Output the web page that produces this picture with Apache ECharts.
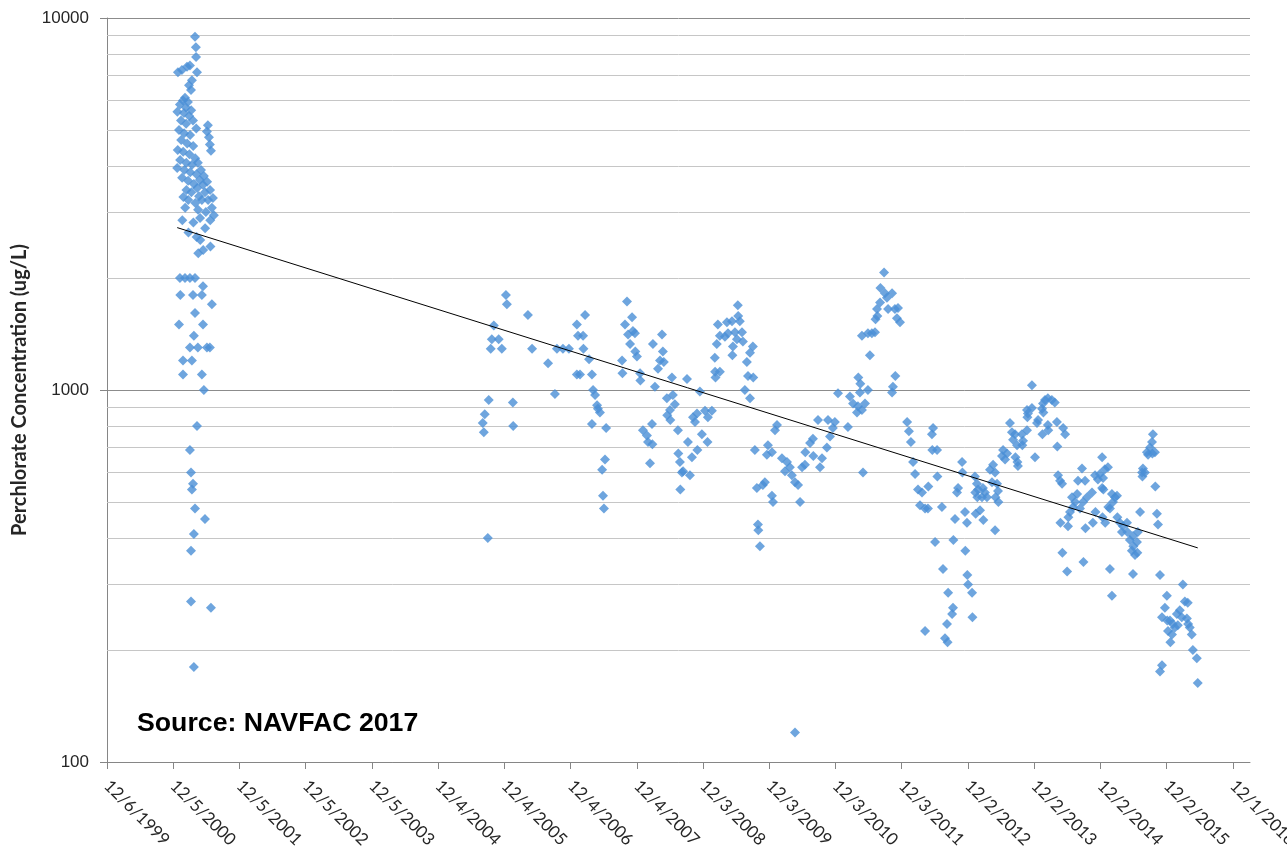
<!DOCTYPE html>
<html>
<head>
<meta charset="utf-8">
<title>Perchlorate Concentration</title>
<script src="https://cdn.jsdelivr.net/npm/echarts@6/dist/echarts.min.js"></script>
<style>
html, body { margin: 0; padding: 0; background: #fff; }
#chart { width: 1287px; height: 853px; }
</style>
</head>
<body>
<div id="chart"></div>
<script>
// sample date, perchlorate (ug/L)
var samples2001 = [
    ['2001-04-04',8900],['2001-04-09',8350],['2001-04-10',7850],['2001-04-15',7150],['2001-03-07',7450],['2001-02-19',7400],
    ['2001-01-22',7250],['2000-12-31',7150],['2001-03-18',6800],['2001-03-02',6600],['2001-03-13',6400],['2001-02-08',6100],
    ['2001-01-28',6000],['2001-02-24',5950],['2001-01-11',5850],['2001-02-13',5750],['2001-03-14',5650],['2000-12-28',5600],
    ['2001-02-02',5550],['2001-03-03',5450],['2001-01-17',5300],['2001-03-24',5300],['2001-02-14',5200],['2001-06-14',5150],
    ['2001-06-09',4950],['2001-06-20',4780],['2001-06-25',4570],['2001-07-01',4400],['2001-01-06',5000],['2001-02-03',4900],
    ['2001-03-08',4850],['2001-04-11',5050],['2001-01-18',4700],['2001-02-20',4600],['2001-03-25',4530],['2000-12-30',4420],
    ['2001-01-29',4370],['2001-03-04',4300],['2001-04-05',4200],['2001-01-12',4150],['2001-02-15',4080],['2001-03-19',4030],
    ['2001-04-20',4080],['2000-12-27',3950],['2001-02-04',3900],['2001-03-09',3850],['2001-04-12',3800],['2001-05-07',3900],
    ['2001-01-23',3720],['2001-02-25',3650],['2001-03-29',3580],['2001-05-01',3670],['2001-05-23',3760],['2001-02-16',3450],
    ['2001-03-15',3400],['2001-04-16',3490],['2001-05-18',3560],['2001-06-10',3630],['2001-01-30',3300],['2001-04-26',3320],
    ['2001-05-29',3400],['2001-06-26',3450],['2001-02-26',3240],['2001-04-06',3180],['2001-05-12',3240],['2001-06-15',3240],
    ['2001-07-12',3280],['2001-02-09',3090],['2001-04-21',3050],['2001-06-03',3010],['2001-07-06',3090],['2001-05-02',2900],
    ['2001-06-27',2860],['2001-07-17',2950],['2001-01-24',2860],['2001-03-26',2820],['2001-05-30',2720],['2001-02-27',2650],
    ['2001-05-03',2530],['2001-04-13',2580],['2001-06-28',2430],['2001-04-22',2330],['2001-05-19',2380],['2001-01-11',2000],
    ['2001-02-08',2000],['2001-03-07',2000],['2001-04-04',2000],['2001-05-18',1900],['2001-01-13',1800],['2001-03-24',1800],
    ['2001-05-12',1800],['2001-07-06',1700],['2001-04-04',1610],['2001-01-06',1500],['2001-05-18',1500],['2001-03-29',1400],
    ['2001-03-07',1300],['2001-04-20',1300],['2001-06-09',1300],['2001-06-25',1300],['2001-01-28',1200],['2001-03-18',1200],
    ['2001-01-28',1100],['2001-05-12',1100],['2001-05-23',1000],['2001-04-15',800],['2001-03-07',690],['2001-03-13',600],
    ['2001-03-24',560],['2001-03-18',540],['2001-04-04',480],['2001-05-29',450],['2001-03-29',410],['2001-03-13',370],
    ['2001-03-13',270],['2001-07-01',260],['2001-03-29',180]
];
var samples2005 = [
    ['2005-08-07',815],['2005-08-18',860],['2005-08-13',770],['2005-09-09',940],['2005-09-04',400],['2005-09-26',1370],
    ['2005-10-07',1490],['2005-09-20',1290],['2005-11-03',1370],['2005-11-20',1290],['2005-12-13',1800],['2005-12-18',1700],
    ['2006-01-20',925],['2006-01-22',800],['2006-04-13',1590],['2006-05-06',1290],['2006-08-02',1180],['2006-09-09',975],
    ['2006-09-20',1290],['2006-10-23',1290],['2006-11-25',1290],['2007-01-08',1500],['2007-02-22',1590],['2007-01-14',1400],
    ['2007-02-11',1400],['2007-02-13',1290],['2007-03-16',1210],['2007-01-08',1100],['2007-01-25',1100],['2007-04-01',1100],
    ['2007-04-07',1000],['2007-04-18',970],['2007-04-29',910],['2007-05-04',890],['2007-05-15',870],['2007-04-01',810],
    ['2007-06-18',790],['2007-06-12',650],['2007-05-27',610],['2007-06-01',520],['2007-06-06',480],['2007-10-11',1730],
    ['2007-11-08',1570],['2007-09-30',1500],['2007-11-13',1440],['2007-10-17',1410],['2007-11-24',1420],['2007-10-28',1330],
    ['2007-11-26',1270],['2007-12-05',1230],['2007-09-14',1200],['2007-09-16',1110],['2007-12-22',1110],['2007-12-24',1060],
    ['2008-03-02',1330],['2008-04-21',1410],['2008-04-26',1270],['2008-04-10',1200],['2008-05-01',1190],['2008-03-30',1140],
    ['2008-03-13',1020],['2008-06-15',1080],['2008-09-06',1070],['2008-02-26',810],['2008-05-18',950],['2008-06-20',970],
    ['2008-07-01',915],['2008-06-04',883],['2008-05-20',855],['2008-06-06',830],['2008-01-07',780],['2008-01-29',755],
    ['2008-02-04',725],['2008-02-28',715],['2008-02-15',635],['2008-07-18',780],['2008-09-11',725],['2008-10-09',845],
    ['2008-10-20',820],['2008-10-03',660],['2008-07-20',675],['2008-07-29',640],['2008-08-15',605],['2008-09-22',590],
    ['2008-08-09',600],['2008-07-31',540]
];
var samples2009 = [
    ['2008-11-16',990],['2008-10-31',865],['2008-12-14',880],['2009-01-21',880],['2008-12-30',845],['2008-11-27',760],
    ['2008-12-28',725],['2008-11-02',690],['2009-06-13',1690],['2009-02-23',1500],['2009-04-14',1520],['2009-05-12',1530],
    ['2009-06-15',1580],['2009-06-24',1530],['2009-03-06',1400],['2009-04-03',1390],['2009-04-20',1420],['2009-05-28',1430],
    ['2009-07-06',1430],['2009-02-17',1330],['2009-05-17',1310],['2009-06-08',1370],['2009-07-11',1350],['2009-09-04',1310],
    ['2009-02-06',1220],['2009-05-14',1240],['2009-08-19',1260],['2009-08-02',1190],['2009-02-08',1120],['2009-03-06',1120],
    ['2009-02-10',1080],['2009-08-08',1090],['2009-09-06',1080],['2009-07-22',1000],['2009-08-19',950],['2009-09-15',690],
    ['2009-11-26',710],['2009-12-18',680],['2009-11-20',670],['2010-01-15',805],['2010-01-04',780],['2009-09-26',545],
    ['2009-10-29',555],['2009-11-09',565],['2009-12-18',520],['2009-12-24',500],['2009-10-02',435],['2009-10-04',420],
    ['2009-10-13',380],['2010-02-11',655],['2010-03-11',640],['2010-03-27',620],['2010-02-28',605],['2010-04-07',590],
    ['2010-04-24',565],['2010-05-11',555],['2010-06-02',620],['2010-06-18',630],['2010-05-22',500],['2010-06-20',680],
    ['2010-07-16',720],['2010-08-01',740],['2010-08-29',830],['2010-09-20',655],['2010-09-09',620],['2010-08-03',665],
    ['2010-10-23',830],['2010-11-30',820],['2010-11-19',790],['2010-11-03',750],['2010-10-17',700],['2010-12-17',980],
    ['2011-02-10',795],['2011-02-21',960],['2011-03-10',920],['2011-04-06',905],['2011-04-28',883],['2011-05-15',920],
    ['2011-04-01',870],['2011-04-17',985],['2011-05-31',1000],['2011-04-08',1080],['2011-04-19',1040],['2011-05-04',600],
    ['2011-04-28',1400],['2011-05-31',1420],['2011-06-22',1420],['2011-07-09',1430],['2011-06-11',1240],['2011-07-20',1650],
    ['2011-08-06',1720],['2011-07-22',1580],['2011-07-12',1550],['2011-08-08',1880],['2011-09-02',1820],['2011-09-13',1770],
    ['2011-10-11',1820],['2011-09-19',1650],['2011-10-27',1650],['2011-11-13',1660],['2011-11-07',1560],['2011-11-24',1520],
    ['2011-08-28',2070],['2011-10-29',1090],['2011-10-16',1020],['2011-10-11',985],['2010-04-24',120]
];
var samples2012 = [
    ['2012-01-02',820],['2012-01-12',775],['2012-01-23',725],['2012-02-04',640],['2012-02-15',595],['2012-03-02',540],
    ['2012-03-24',530],['2012-03-13',490],['2012-04-10',480],['2012-04-26',480],['2012-04-28',550],['2012-05-18',760],
    ['2012-05-24',790],['2012-05-20',690],['2012-06-15',690],['2012-06-17',585],['2012-07-12',485],['2012-06-04',390],
    ['2012-07-18',330],['2012-08-15',285],['2012-09-11',260],['2012-09-06',250],['2012-08-09',235],['2012-07-29',215],
    ['2012-08-12',210],['2012-04-10',225],['2012-09-22',450],['2012-11-27',440],['2012-11-16',470],['2012-09-13',395],
    ['2012-11-18',370],['2012-10-03',530],['2012-10-09',545],['2012-10-31',640],['2012-11-02',600],['2012-11-29',318],
    ['2012-12-03',300],['2012-12-25',285],['2012-12-27',245],['2013-01-10',585],['2013-01-21',560],['2013-01-12',530],
    ['2013-01-23',515],['2013-01-27',540],['2013-02-23',545],['2013-03-06',530],['2013-02-18',515],['2013-03-17',515],
    ['2013-01-14',465],['2013-02-07',475],['2013-02-25',447],['2013-04-03',610],['2013-04-20',630],['2013-05-01',600],
    ['2013-04-14',565],['2013-05-12',560],['2013-05-17',535],['2013-05-03',515],['2013-05-19',500],['2013-05-01',420],
    ['2013-06-08',665],['2013-06-14',690],['2013-07-06',675],['2013-06-25',650],['2013-07-22',815],['2013-08-02',770],
    ['2013-08-19',760],['2013-08-08',735],['2013-08-30',710],['2013-08-21',660],['2013-09-01',640],['2013-09-04',625],
    ['2013-09-26',760],['2013-10-02',730],['2013-10-24',780],['2013-09-28',710],['2013-10-24',883],['2013-10-29',865],
    ['2013-10-26',845],['2013-11-20',895],['2013-11-20',1030],['2013-12-07',660],['2013-12-24',830],['2013-12-18',815],
    ['2014-01-15',890],['2014-01-20',920],['2014-01-31',940],['2014-02-16',950],['2014-03-10',940],['2014-03-26',925],
    ['2014-01-22',870],['2014-01-17',760],['2014-02-16',805],['2014-02-18',780],['2014-04-07',820],['2014-05-11',790],
    ['2014-05-22',760],['2014-04-09',705],['2014-04-13',590],['2014-04-24',570],['2014-05-05',560],['2014-04-26',440],
    ['2014-06-07',430],['2014-05-07',365],['2014-06-02',325],['2014-06-29',515],['2014-07-16',500],['2014-07-05',485],
    ['2014-07-27',525],['2014-08-01',570],['2014-08-23',615],['2014-09-09',570],['2014-08-12',480],['2014-08-29',500],
    ['2014-09-20',515],['2014-10-17',530],['2014-11-03',590],['2014-11-19',575],['2014-12-17',580],['2014-12-12',660],
    ['2014-06-09',455],['2014-06-18',470],['2014-09-11',425],['2014-08-31',345],['2014-11-05',470],['2014-12-14',455],
    ['2014-11-30',595],['2014-12-27',612],['2015-01-13',620],['2014-12-12',545],['2014-12-19',540],['2014-10-22',440],
    ['2014-12-29',440],['2015-02-04',525],['2015-02-21',515],['2015-03-04',520],['2015-02-10',500],['2015-01-15',485],
    ['2015-01-24',480],['2015-03-06',455],['2015-03-20',440],['2015-04-06',430],['2015-04-28',440],['2015-03-31',415],
    ['2015-04-30',415],['2015-05-31',405],['2015-06-27',415],['2015-05-14',395],['2015-06-02',380],['2015-06-22',390],
    ['2015-05-25',370],['2015-06-11',360],['2015-06-24',365],['2015-01-24',330],['2015-02-04',280],['2015-05-31',320],
    ['2015-07-09',470],['2015-07-20',600],['2015-07-25',615],['2015-07-22',585],['2015-08-05',600],['2015-08-22',670],
    ['2015-08-16',680],['2015-09-02',700],['2015-09-13',725],['2015-09-18',760],['2015-09-15',675],['2015-09-29',680],
    ['2015-10-01',550],['2015-10-10',465],['2015-10-16',435],['2015-10-27',318],['2016-03-01',300],['2015-12-04',280],
    ['2015-11-23',260],['2015-11-07',245],['2015-12-06',240],['2015-12-21',240],['2016-01-06',235],['2015-12-10',225],
    ['2016-01-01',220],['2015-12-23',210],['2016-01-17',230],['2016-02-02',233],['2016-02-13',256],['2016-01-28',250],
    ['2016-02-24',245],['2016-03-12',270],['2016-03-28',268],['2016-03-23',243],['2016-03-30',235],['2016-04-08',230],
    ['2016-04-19',220],['2016-04-25',200],['2016-05-17',190],['2015-11-07',182],['2015-10-27',175],['2016-05-22',163]
];

// axis settings (x in Excel serial days, as in the source workbook)
var xMin = 36500;   // 12/6/1999
var xMax = 42800;
var xStep = 365;
var yMinorGrid = [200, 300, 400, 500, 600, 700, 800, 900, 2000, 3000, 4000, 5000, 6000, 7000, 8000, 9000];

var EXCEL_EPOCH = Date.UTC(1899, 11, 30);
function toSerial(s) {
    var p = s.split('-');
    return (Date.UTC(+p[0], +p[1] - 1, +p[2]) - EXCEL_EPOCH) / 86400000;
}
function fmtSerial(v) {
    var d = new Date(EXCEL_EPOCH + Math.round(v) * 86400000);
    return (d.getUTCMonth() + 1) + '/' + d.getUTCDate() + '/' + d.getUTCFullYear();
}

var points = samples2001.concat(samples2005, samples2009, samples2012).map(function (p) {
    return [toSerial(p[0]), p[1]];
});

// exponential trendline (least squares on log10)
var n = points.length, mx = 0, my = 0;
points.forEach(function (p) { mx += p[0]; my += Math.log10(p[1]); });
mx /= n; my /= n;
var sxy = 0, sxx = 0;
points.forEach(function (p) {
    sxy += (p[0] - mx) * (Math.log10(p[1]) - my);
    sxx += (p[0] - mx) * (p[0] - mx);
});
var slope = sxy / sxx;
var x0 = Math.min.apply(null, points.map(function (p) { return p[0]; }));
var x1 = Math.max.apply(null, points.map(function (p) { return p[0]; }));
function trendAt(x) { return Math.pow(10, my + slope * (x - mx)); }
var trend = [[x0, trendAt(x0)], [x1, trendAt(x1)]];

var xTicks = [];
for (var t = xMin; t <= xMax; t += xStep) xTicks.push(t);

var myChart = echarts.init(document.getElementById('chart'));
var option = {
    backgroundColor: '#ffffff',
    animation: false,
    title: {
        text: 'Source: NAVFAC 2017',
        left: 132,
        top: 705,
        textStyle: { fontFamily: 'Liberation Sans', fontWeight: 'bold', fontSize: 26.7, color: '#000' }
    },
    grid: { left: 107, right: 37, top: 18, bottom: 91, outerBoundsMode: 'none' },
    xAxis: {
        type: 'value',
        min: xMin,
        max: xMax,
        interval: xStep,
        axisLine: { lineStyle: { color: '#868686', width: 1 } },
        axisTick: { show: true, length: 7, customValues: xTicks, lineStyle: { color: '#868686' } },
        axisLabel: {
            rotate: -45,
            margin: 21,
            customValues: xTicks,
            formatter: fmtSerial,
            fontFamily: 'Lato',
            fontSize: 17,
            color: '#262626'
        },
        splitLine: { show: false }
    },
    yAxis: {
        type: 'log',
        logBase: 10,
        min: 100,
        max: 10000,
        name: 'Perchlorate Concentration (ug/L)',
        nameLocation: 'middle',
        nameGap: 77,
        nameTextStyle: { fontFamily: 'Lato', fontWeight: 'bold', fontSize: 20, color: '#262626' },
        axisLine: { show: true, lineStyle: { color: '#868686', width: 1 } },
        axisTick: { show: true, length: 7, lineStyle: { color: '#868686' } },
        axisLabel: {
            fontFamily: 'Liberation Sans',
            fontSize: 17,
            color: '#262626',
            margin: 18,
            formatter: function (v) { return String(Math.round(v)); }
        },
        splitLine: { show: true, lineStyle: { color: '#8c8c8c', width: 1 } }
    },
    series: [{
        name: 'Perchlorate',
        type: 'scatter',
        symbol: 'diamond',
        symbolSize: 10,
        z: 3,
        itemStyle: { color: '#4a8fd6' },
        data: points,
        markLine: {
            silent: true,
            z: 1,
            symbol: ['none', 'none'],
            label: { show: false },
            lineStyle: { color: '#c6c6c6', type: 'solid', width: 1 },
            data: yMinorGrid.map(function (v) { return { yAxis: v }; })
        }
    }, {
        name: 'Expon. trend',
        type: 'line',
        data: trend,
        symbol: 'none',
        z: 4,
        lineStyle: { color: '#000', width: 1 }
    }]
};
myChart.setOption(option);

window.addEventListener('resize', function () {
    myChart.resize();
});
</script>
</body>
</html>
